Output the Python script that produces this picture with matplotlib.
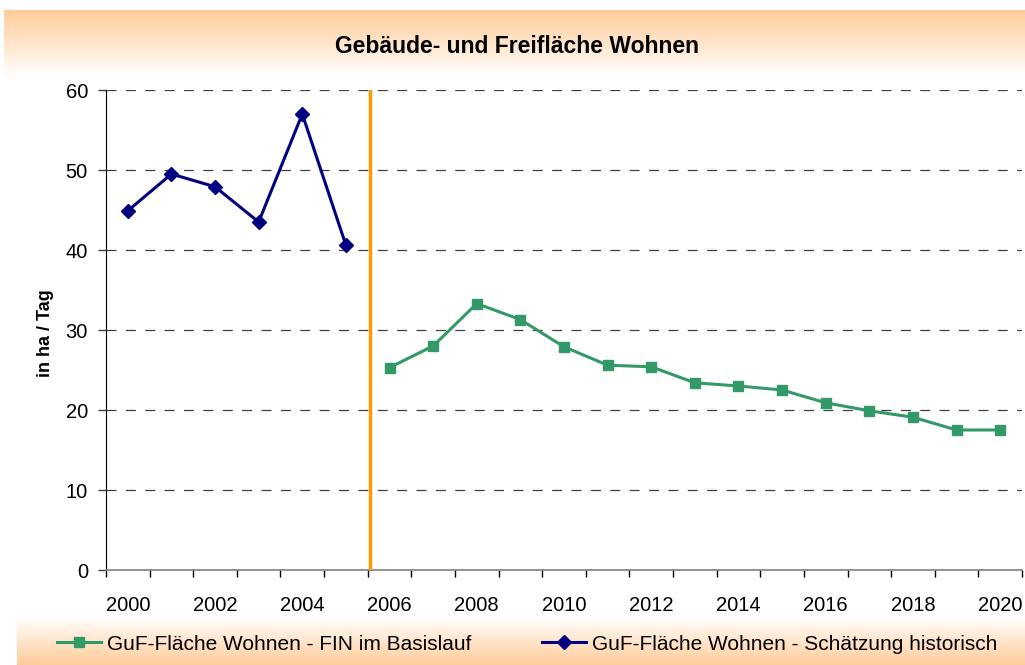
import numpy as np
import matplotlib
matplotlib.use('Agg')
from matplotlib import pyplot as plt
from matplotlib.lines import Line2D

plt.rcParams['font.family'] = ['Liberation Sans', 'DejaVu Sans']

# Daten
years = list(range(2000, 2021))
hist_years = [2000, 2001, 2002, 2003, 2004, 2005]
hist_values = [44.9, 49.5, 47.9, 43.5, 57.0, 40.6]
fin_years = list(range(2006, 2021))
fin_values = [25.3, 28.0, 33.3, 31.3, 27.9, 25.6, 25.4, 23.4, 23.0, 22.5,
              20.9, 19.9, 19.1, 17.5, 17.5]
y_ticks = [0, 10, 20, 30, 40, 50, 60]
label_years = list(range(2000, 2021, 2))

title = 'Gebäude- und Freifläche Wohnen'
y_label = 'in ha / Tag'
label_fin = 'GuF-Fläche Wohnen - FIN im Basislauf'
label_hist = 'GuF-Fläche Wohnen - Schätzung historisch'

W, H = 1025, 665
fig = plt.figure(figsize=(W / 100, H / 100), dpi=100)

# Farbverläufe für Titel- und Legendenband
peach = np.array([1.0, 0.80, 0.60])
white = np.array([1.0, 1.0, 1.0])
t = np.linspace(0, 1, 256)[:, None]

ax_title = fig.add_axes([4 / W, 1 - 77 / H, 1 - 4 / W, 67 / H])
grad = (1 - t) * peach + t * white
ax_title.imshow(grad[:, None, :].repeat(2, axis=1), aspect='auto', extent=[0, 1, 0, 1])
ax_title.set_axis_off()
ax_title.text(0.502, 0.45, title, ha='center', va='center', fontsize=16.5,
              fontweight='bold', transform=ax_title.transAxes)

ax_leg = fig.add_axes([17 / W, 0, 1 - 17 / W, 48 / H])
grad2 = (1 - t) * white + t * peach
ax_leg.imshow(grad2[:, None, :].repeat(2, axis=1), aspect='auto', extent=[0, 1, 0, 1])
ax_leg.set_axis_off()

# Hauptdiagramm
ax = fig.add_axes([106 / W, 95 / H, 916 / W, 480 / H])
idx = {y: i for i, y in enumerate(years)}

blue = '#000080'
green = '#339966'

ax.plot([idx[y] for y in hist_years], hist_values, color=blue, lw=2.2,
        marker='D', markersize=7, zorder=4)
ax.plot([idx[y] for y in fin_years], fin_values, color=green, lw=2.2,
        marker='s', markersize=7, zorder=4)

# Trennlinie historisch / Basislauf
ax.axvline(idx[2006] - 0.44, color='#FF9900', lw=2.5, zorder=3)

ax.set_xlim(-0.5, len(years) - 0.5)
ax.set_ylim(0, 60)
ax.set_yticks(y_ticks)
ax.yaxis.grid(True, color='#404040', lw=0.9, dashes=(8, 7.5))
ax.set_axisbelow(True)

ax.set_xticks(np.arange(-0.5, len(years), 1.0))
ax.set_xticklabels([])
ax.set_xticks([idx[y] for y in label_years], minor=True)
ax.set_xticklabels([str(y) for y in label_years], minor=True)
ax.tick_params(axis='x', which='major', length=5, width=1, direction='out', color='black')
ax.tick_params(axis='x', which='minor', length=0, pad=19, labelsize=14.5)
ax.tick_params(axis='y', length=6, width=1, direction='out', pad=7, labelsize=14.5, color='#404040')

for side in ['top', 'right']:
    ax.spines[side].set_visible(False)
ax.spines['left'].set_color('black')
ax.spines['bottom'].set_color('#808080')
ax.spines['bottom'].set_linewidth(1.2)

fig.text(45 / W, 1 - 333 / H, y_label, rotation=90, ha='center', va='center',
         fontsize=13, fontweight='bold')

handles = [
    Line2D([], [], color=green, lw=2.2, marker='s', markersize=7, label=label_fin),
    Line2D([], [], color=blue, lw=2.2, marker='D', markersize=7, label=label_hist),
]
fig.legend(handles=handles, loc='center left', bbox_to_anchor=(57 / W, 1 - 644 / H),
           ncol=2, frameon=False, fontsize=15, handlelength=2.1, handletextpad=0.3,
           columnspacing=3.4, borderpad=0, borderaxespad=0)

fig.savefig('out.png', dpi=100)
